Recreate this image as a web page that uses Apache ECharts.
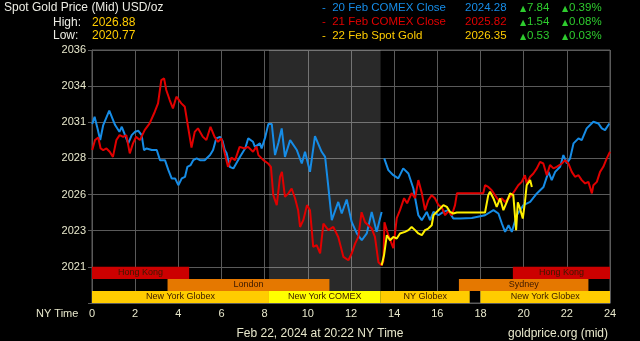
<!DOCTYPE html>
<html><head><meta charset="utf-8">
<script src="https://cdn.jsdelivr.net/npm/echarts@6/dist/echarts.min.js"></script>
<style>html,body{margin:0;padding:0;background:#000;}#c{width:640px;height:341px;}</style>
</head><body><div id="c"></div>
<script>
// ---------- DATA ----------
const blueHours = [0.01,0.12,0.25,0.38,0.52,0.80,1.07,1.27,1.38,1.53,1.68,1.84,1.99,2.15,2.30,2.41,2.53,2.77,3.00,3.15,3.38,3.54,3.69,3.85,4.00,4.16,4.31,4.42,4.57,4.69,4.85,5.00,5.22,5.47,5.61,5.76,5.93,6.05,6.15,6.24,6.38,6.55,6.61,6.86,6.92,7.10,7.24,7.46,7.55,7.78,7.86,8.03,8.17,8.33,8.48,8.64,8.79,8.94,9.18,9.49,9.72,9.87,10.10,10.33,10.64,10.80,10.95,11.11,11.41,11.57,11.80,12.03,12.27,12.50,12.73,12.96,13.19,13.42,13.48,13.54,13.73,13.96,14.19,14.42,14.66,14.89,15.12,15.28,15.51,15.66,15.82,16.05,16.28,16.51,16.74,17.05,17.60,18.21,18.60,18.83,18.99,19.14,19.30,19.45,19.68,19.99,20.30,20.61,20.92,21.15,21.30,21.46,21.69,21.84,22.00,22.15,22.31,22.54,22.69,22.92,23.23,23.46,23.62,23.77,23.97];
const blueValues = [2030.88,2031.38,2030.60,2029.77,2030.81,2031.80,2030.81,2030.34,2030.69,2030.11,2029.54,2030.11,2030.34,2030.41,2030.11,2029.08,2029.19,2029.08,2029.08,2028.38,2028.38,2027.69,2027.12,2027.12,2026.65,2027.12,2027.23,2027.92,2028.04,2028.38,2028.50,2028.38,2028.38,2028.73,2029.08,2029.89,2029.99,2029.70,2029.08,2028.85,2027.92,2027.81,2027.92,2028.61,2028.50,2029.20,2029.89,2029.65,2029.30,2029.54,2029.19,2029.99,2030.88,2030.88,2028.73,2029.60,2030.58,2028.61,2029.77,2029.08,2028.15,2028.96,2027.57,2030.04,2028.96,2028.61,2026.53,2024.23,2025.49,2024.69,2025.66,2024.11,2023.31,2022.84,2023.31,2024.80,2023.42,2024.80,null,2028.50,2027.69,2027.34,2027.12,2027.81,2027.46,2026.42,2024.57,2024.23,2024.80,2024.23,2024.80,2024.57,2024.80,2024.92,2024.34,2024.34,2024.38,2024.57,2024.92,2024.69,2024.00,2023.42,2023.88,2023.42,2024.57,2025.27,2025.49,2026.08,2026.53,2027.57,2027.00,2027.57,2027.92,2028.73,2028.15,2028.50,2029.54,2029.89,2029.77,2030.58,2031.04,2030.92,2030.58,2030.46,2030.92];

const redHours = [0.01,0.14,0.29,0.40,0.52,0.67,0.82,0.97,1.13,1.28,1.44,1.59,1.75,1.90,2.04,2.22,2.44,2.67,2.91,3.06,3.21,3.34,3.44,3.60,3.75,3.91,3.99,4.14,4.30,4.45,4.61,4.76,4.91,5.14,5.30,5.49,5.68,5.84,5.99,6.15,6.30,6.46,6.63,6.84,7.08,7.23,7.46,7.62,7.71,7.94,8.16,8.29,8.40,8.56,8.71,8.80,8.94,9.10,9.25,9.41,9.55,9.64,9.79,9.96,10.10,10.25,10.41,10.57,10.72,10.95,11.18,11.41,11.65,11.88,12.03,12.19,12.34,12.49,12.65,12.80,12.96,13.11,13.27,13.42,13.50,13.55,13.73,13.96,14.12,14.27,14.46,14.60,14.81,14.97,15.12,15.28,15.43,15.58,15.74,15.89,16.05,16.20,16.36,16.51,16.67,16.82,16.91,18.13,18.21,18.36,18.52,18.67,18.83,18.99,19.14,19.29,19.45,19.60,19.75,19.91,20.06,20.14,20.30,20.45,20.61,20.76,20.91,21.07,21.22,21.38,21.53,21.77,21.92,22.07,22.23,22.38,22.54,22.69,22.85,23.00,23.16,23.23,23.39,23.54,23.69,23.85,24.00];
const redValues = [2029.08,2029.77,2029.95,2029.19,2029.08,2029.19,2028.96,2028.61,2029.77,2030.11,2029.99,2030.11,2028.85,2029.54,2029.99,2029.77,2030.46,2030.92,2031.73,2032.31,2033.92,2034.04,2033.23,2032.54,2031.96,2032.77,2032.88,2032.31,2032.07,2030.69,2029.25,2030.34,2030.58,2029.99,2029.77,2030.69,2029.99,2029.65,2029.89,2028.85,2027.92,2028.56,2028.38,2029.30,2029.19,2029.30,2028.96,2029.32,2028.73,2028.38,2028.15,2027.92,2025.96,2025.27,2027.23,2027.57,2025.84,2026.08,2026.42,2025.73,2024.92,2023.76,2024.23,2025.27,2024.92,2022.38,2022.50,2021.94,2024.00,2023.54,2023.76,2023.07,2021.69,2021.46,2021.92,2022.61,2023.07,2024.78,2024.09,2023.88,2023.65,2023.07,2021.32,2021.11,2021.39,2024.09,2023.19,2022.29,2024.37,2024.92,2025.75,2025.40,2026.10,2025.75,2027.00,2026.10,2024.92,2025.61,2025.96,2025.75,2025.27,2025.13,2024.57,2024.85,2024.57,2025.27,2026.10,2026.10,2026.65,2026.53,2026.30,2025.96,2025.61,2025.73,2025.49,2025.73,2025.96,2026.30,2026.65,2026.88,2027.34,2026.77,2027.23,2027.46,2027.81,2028.26,2028.15,2027.34,2028.04,2027.81,2027.92,2028.15,2028.38,2028.15,2027.57,2027.23,2027.34,2027.00,2026.77,2026.88,2026.08,2026.65,2026.88,2027.57,2027.92,2028.50,2028.96];

const yellowHours = [13.42,13.53,13.66,13.81,13.96,14.12,14.27,14.50,14.66,14.81,14.97,15.12,15.28,15.43,15.58,15.74,15.82,15.97,16.13,16.28,16.44,16.59,16.74,16.90,18.21,18.36,18.44,18.60,18.75,18.91,19.06,19.22,19.37,19.52,19.65,19.73,19.83,19.96,20.06,20.14,20.30,20.38];
const yellowValues = [2021.11,2021.80,2023.19,2022.84,2023.07,2022.96,2023.31,2023.42,2023.54,2023.76,2023.54,2023.31,2023.19,2023.54,2023.65,2023.88,2024.57,2024.80,2025.04,2025.27,2025.15,2024.80,2024.69,2024.76,2024.76,2025.96,2026.19,2025.73,2025.15,2025.73,2024.92,2025.49,2026.08,2025.96,2023.54,2025.47,2025.04,2024.34,2025.49,2026.65,2027.00,2026.53];

const xTicks = [0,2,4,6,8,10,12,14,16,18,20,22,24];
const yTickValues = [2021,2023.5,2026,2028.5,2031,2033.5,2036];
const yTickLabels = ['2021','2023','2026','2028','2031','2034','2036'];

const sessionNames = ['Hong Kong','Hong Kong','London','Sydney','New York Globex','New York COMEX','NY Globex','New York Globex'];
const sessionStart = [0,19.5,3.5,17,0,8.2,13.37,18];
const sessionEnd   = [4.5,24,11,23,8.2,13.37,17.5,24];
const sessionRow   = [0,0,1,1,2,2,2,2];
const comexIndex = 5;

const legendNames  = ['20 Feb COMEX Close','21 Feb COMEX Close','22 Feb Spot Gold'];
const legendPrices = ['2024.28','2025.82','2026.35'];
const legendChange = ['7.84','1.54','0.53'];
const legendPct    = ['0.39%','0.08%','0.03%'];
const highValue = '2026.88';
const lowValue = '2020.77';
const titleText = 'Spot Gold Price (Mid) USD/oz';
const footerText = 'Feb 22, 2024 at 20:22 NY Time';
const sourceText = 'goldprice.org (mid)';
const axisNameText = 'NY Time';

// ---------- STYLE ----------
const FONT = "'Liberation Sans', Arial, 'DejaVu Sans', sans-serif";
const GRID = '#5a5a5a';
const LABEL = '#e8e8cc';
const BLUE = '#168ce6', RED = '#e10000', YEL = '#fff000', GOLD = '#ffcc00', GREEN = '#2ecc2e';
const sessionColors = {'Hong Kong':'#cc0000','London':'#e57800','Sydney':'#e57800','New York Globex':'#ffcc00','NY Globex':'#ffcc00','New York COMEX':'#ffff00'};
const Y_MIN = 2018.5, Y_MAX = 2036, Y_INT = 2.5;
const ROW_TOP = 2021, ROW_H = (ROW_TOP - Y_MIN) / 3;

function pairs(xs, ys){ return xs.map((x,i)=>[x, ys[i]===null ? '-' : ys[i]]); }

const chart = echarts.init(document.getElementById('c'), null, {renderer:'canvas'});

const legendColors = [BLUE, RED, GOLD];
const graphics = [];
function txt(x, y, text, fill, size, align, family){
  graphics.push({type:'text', x:x, y:y, silent:true, z:100,
    style:{text:text, fill:fill, font: size+'px '+(family||FONT), textAlign: align||'left', textVerticalAlign:'middle', align: align||'left', verticalAlign:'middle'}});
}
txt(4, 8, titleText, '#ececE4', 12);
txt(53, 22.5, 'High:', '#ececE4', 12);
txt(92, 22.5, highValue, GOLD, 12);
txt(53, 36, 'Low:', '#ececE4', 12);
txt(92, 36, lowValue, GOLD, 12);
const rowY = [8, 22.3, 36];
for (let i=0;i<3;i++){
  txt(322, rowY[i], '-  ' + legendNames[i], legendColors[i], 11.5);
  txt(465, rowY[i], legendPrices[i], legendColors[i], 11.5);
  txt(520, rowY[i]+0.5, '\u25B2', GREEN, 8, 'left', "'DejaVu Sans', sans-serif");
  txt(527, rowY[i], legendChange[i], GREEN, 11.5);
  txt(562, rowY[i]+0.5, '\u25B2', GREEN, 8, 'left', "'DejaVu Sans', sans-serif");
  txt(569, rowY[i], legendPct[i], GREEN, 11.5);
}
txt(36, 314, axisNameText, LABEL, 11);
txt(320, 334, footerText, LABEL, 12, 'center');
txt(508, 334, sourceText, LABEL, 12);

const option = {
  backgroundColor:'#000',
  animation:false,
  grid:{left:92, top:50, width:518, height:253, show:true, borderColor:GRID, borderWidth:1, backgroundColor:'transparent'},
  xAxis:{type:'value', min:0, max:24, interval:2,
    axisLine:{show:true, lineStyle:{color:GRID}}, axisTick:{show:false},
    axisLabel:{color:LABEL, fontSize:11, fontFamily:FONT, margin:5,
      formatter:(v)=> xTicks.indexOf(v)>=0 ? String(v) : ''},
    splitLine:{show:true, lineStyle:{color:GRID, width:1}}},
  yAxis:{type:'value', min:Y_MIN, max:Y_MAX, interval:Y_INT,
    axisLine:{show:true, lineStyle:{color:GRID}},
    axisTick:{show:true, length:4, lineStyle:{color:GRID}},
    axisLabel:{color:LABEL, fontSize:11, fontFamily:FONT, margin:6,
      formatter:(v)=>{ for(let k=0;k<yTickValues.length;k++){ if(Math.abs(v-yTickValues[k])<0.01) return yTickLabels[k]; } return ''; }},
    splitLine:{show:true, lineStyle:{color:GRID, width:1}}},
  graphic:graphics,
  series:[
    {type:'custom', z:1, silent:true, clip:false,
      data:[[sessionStart[comexIndex], sessionEnd[comexIndex]]],
      encode:{x:[0,1]},
      renderItem:(params, api)=>{
        const p1 = api.coord([api.value(0), Y_MAX]);
        const p2 = api.coord([api.value(1), Y_MIN]);
        return {type:'rect', shape:{x:p1[0], y:p1[1], width:p2[0]-p1[0], height:p2[1]-p1[1]},
          style:{fill:'rgba(255,255,255,0.16)'}};
      }},
    {type:'custom', z:3, silent:true,
      data: sessionNames.map((n,i)=>[sessionStart[i], sessionEnd[i], sessionRow[i]]),
      encode:{x:[0,1]},
      renderItem:(params, api)=>{
        const i = params.dataIndex;
        const r = api.value(2);
        const p1 = api.coord([api.value(0), ROW_TOP - r*ROW_H]);
        const p2 = api.coord([api.value(1), ROW_TOP - (r+1)*ROW_H]);
        const name = sessionNames[i];
        return {type:'group', children:[
          {type:'rect', shape:{x:p1[0], y:p1[1], width:p2[0]-p1[0], height:p2[1]-p1[1]}, style:{fill:sessionColors[name]}},
          {type:'text', x:(p1[0]+p2[0])/2, y:(p1[1]+p2[1])/2,
            style:{text:name, fill:'#3a1800', font:'9px '+FONT, align:'center', verticalAlign:'middle', textAlign:'center', textVerticalAlign:'middle'}}
        ]};
      }},
    {type:'line', name:'20 Feb COMEX Close', z:4, data:pairs(blueHours, blueValues), showSymbol:false, connectNulls:false,
      lineStyle:{color:BLUE, width:2}, itemStyle:{color:BLUE}},
    {type:'line', name:'21 Feb COMEX Close', z:5, data:pairs(redHours, redValues), showSymbol:false,
      lineStyle:{color:RED, width:2}, itemStyle:{color:RED}},
    {type:'line', name:'22 Feb Spot Gold', z:6, data:pairs(yellowHours, yellowValues), showSymbol:false,
      lineStyle:{color:YEL, width:2}, itemStyle:{color:YEL}}
  ]
};
chart.setOption(option);
</script></body></html>
